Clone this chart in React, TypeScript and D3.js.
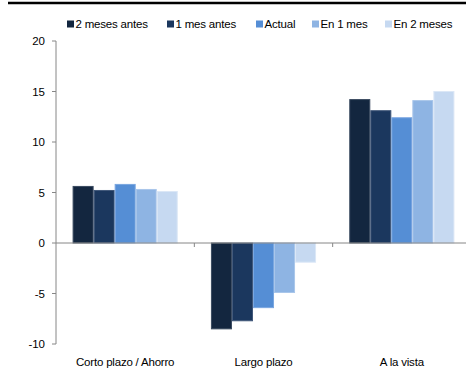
import React from "react";
import * as d3 from "d3";

const categories = ["Corto plazo / Ahorro", "Largo plazo", "A la vista"];
const seriesNames = ["2 meses antes", "1 mes antes", "Actual", "En 1 mes", "En 2 meses"];
const seriesColors = ["#13263f", "#1b375e", "#558ed5", "#8eb4e3", "#c6d9f1"];
const seriesStrokes = ["#3a4a60", "#41587a", "#7aa6e0", "#a9c6ea", "#dbe7f6"];
const values2MesesAntes = [5.6, -8.5, 14.2];
const values1MesAntes = [5.2, -7.7, 13.1];
const valuesActual = [5.8, -6.4, 12.4];
const valuesEn1Mes = [5.3, -4.9, 14.1];
const valuesEn2Meses = [5.1, -1.9, 15.0];
const seriesValues = [values2MesesAntes, values1MesAntes, valuesActual, valuesEn1Mes, valuesEn2Meses];
const yTicks = [-10, -5, 0, 5, 10, 15, 20];

const W = 466;
const H = 368;
const plotLeft = 56;
const plotRight = 471;
const font = "Arial, 'Liberation Sans', sans-serif";

export default function App() {
  const y = d3.scaleLinear().domain([-10, 20]).range([344, 41]);
  const x0 = d3.scaleBand<string>().domain(categories).range([plotLeft, plotRight]).paddingInner(0.24).paddingOuter(0.12);
  const x1 = d3.scaleBand<string>().domain(seriesNames).range([0, x0.bandwidth()]);
  const band = (plotRight - plotLeft) / categories.length;
  const axisColor = "#868686";

  const legendX = [67, 167, 256, 312, 385];

  return (
    <svg width={W} height={H} style={{ position: "absolute", left: 0, top: 0, background: "#fff" }}>
      <line x1={8} x2={W} y1={3} y2={3} stroke="#000" strokeWidth={2.5} />

      {/* legend */}
      {seriesNames.map((name, i) => (
        <g key={name}>
          <rect x={legendX[i]} y={20.5} width={7} height={7} fill={seriesColors[i]} />
          <text x={legendX[i] + 8.5} y={28} fontFamily={font} fontSize={11.5} letterSpacing={-0.2} fill="#000">{name}</text>
        </g>
      ))}

      {/* bars */}
      {categories.map((cat, ci) => (
        <g key={cat} transform={`translate(${x0(cat)},0)`}>
          {seriesNames.map((s, si) => {
            const v = seriesValues[si][ci];
            const y0 = y(0);
            const yv = y(v);
            return (
              <rect
                key={s}
                x={x1(s)! + 0.5}
                y={Math.min(y0, yv)}
                width={x1.bandwidth() - 1}
                height={Math.abs(yv - y0)}
                fill={seriesColors[si]}
                stroke={seriesStrokes[si]}
                strokeWidth={1}
              />
            );
          })}
        </g>
      ))}

      {/* y axis */}
      <line x1={plotLeft} x2={plotLeft} y1={y(20)} y2={y(-10)} stroke={axisColor} strokeWidth={1} />
      {yTicks.map((t) => (
        <g key={t}>
          <line x1={plotLeft - 4} x2={plotLeft} y1={y(t)} y2={y(t)} stroke={axisColor} />
          <text x={45} y={y(t) + 4} textAnchor="end" fontFamily={font} fontSize={11.5} fill="#000">{t}</text>
        </g>
      ))}

      {/* zero line with category ticks */}
      <line x1={plotLeft} x2={plotRight} y1={y(0)} y2={y(0)} stroke={axisColor} strokeWidth={1} />
      {[1, 2].map((k) => (
        <line key={k} x1={plotLeft + band * k} x2={plotLeft + band * k} y1={y(0)} y2={y(0) + 4} stroke={axisColor} />
      ))}

      {/* category labels */}
      {categories.map((cat) => (
        <text key={cat} x={x0(cat)! + x0.bandwidth() / 2} y={366} textAnchor="middle" fontFamily={font} fontSize={11.5} letterSpacing={-0.2} fill="#000">{cat}</text>
      ))}
    </svg>
  );
}
